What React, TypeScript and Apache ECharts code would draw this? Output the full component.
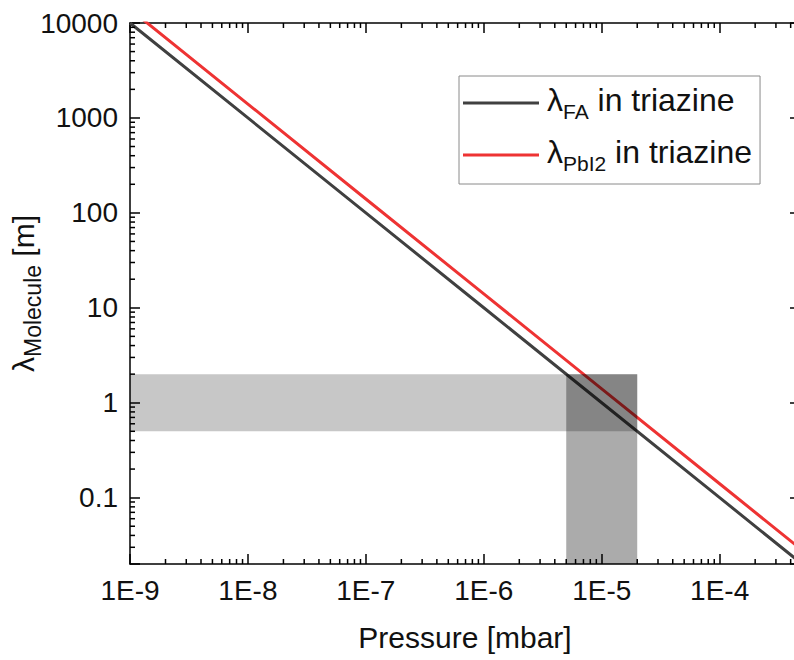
import React, { useEffect, useRef } from 'react';
import * as echarts from 'echarts';

// ---- data ----
const PRESSURE = [1e-9, 1e-8, 1e-7, 1e-6, 1e-5, 1e-4, 1e-3];
const LAMBDA_FA = [10000, 1000, 100, 10, 1, 0.1, 0.01];
const LAMBDA_PBI2 = [14000, 1400, 140, 14, 1.4, 0.14, 0.014];
const SERIES_SUBS = ['FA', 'PbI2'];
const X_RANGE = [1e-9, 4.8e-4];
const Y_RANGE = [0.02, 10000];
// [xFrom, xTo, yFrom, yTo]
const BAND_H = [1e-9, 2e-5, 0.5, 2];
const BAND_V = [5e-6, 2e-5, 0.02, 2];
const MINOR_STEPS = [2, 3, 4, 5, 6, 7, 8, 9];
const X_DECADES = [-10, -9, -8, -7, -6, -5, -4, -3];
const Y_DECADES = [-3, -2, -1, 0, 1, 2, 3, 4];

const FONT = '"Liberation Sans", Arial, sans-serif';
const BAND_FILLS = ['rgba(0,0,0,0.22)', 'rgba(0,0,0,0.33)'];
const AXIS_COLOR = '#000';
const TEXT_COLOR = '#111';

function isDecade(v: number) {
  const l = Math.log10(v);
  return Math.abs(l - Math.round(l)) < 1e-6;
}

function xLabel(v: number) {
  if (!isDecade(v)) return '';
  return '1E' + Math.round(Math.log10(v));
}

function yLabel(v: number) {
  if (!isDecade(v)) return '';
  const k = Math.round(Math.log10(v));
  return Number(Math.pow(10, k).toFixed(Math.max(0, -k))).toString();
}

export default function App() {
  const ref = useRef<HTMLDivElement>(null);
  useEffect(() => {
    if (!ref.current) return;
    const chart = echarts.init(ref.current, undefined, { renderer: 'svg' });

    const axisLine = { show: true, lineStyle: { color: AXIS_COLOR, width: 1.5 } };
    const axisTick = { show: true, inside: true, length: 10, lineStyle: { color: AXIS_COLOR, width: 1.5 } };

    const option: any = {
      animation: false,
      backgroundColor: '#fff',
      textStyle: { fontFamily: FONT },
      grid: { left: 130, right: -6, top: 23, bottom: 96, containLabel: false, outerBoundsMode: 'none' },
      legend: {
        orient: 'vertical',
        left: 459,
        top: 76,
        padding: [8, 8, 10, 4],
        itemGap: 14,
        itemWidth: 76,
        itemHeight: 3,
        icon: 'rect',
        borderColor: '#8a8a8a',
        borderWidth: 1,
        backgroundColor: '#fff',
        data: SERIES_SUBS,
        formatter: (name: string) => `{a|λ}{s|${name}}{a| in triazine}`,
        textStyle: {
          padding: [0, 0, 0, 3],
          rich: {
            a: { fontSize: 32, fontFamily: FONT, color: TEXT_COLOR, lineHeight: 38, verticalAlign: 'top' },
            s: { fontSize: 21, fontFamily: FONT, color: TEXT_COLOR, lineHeight: 38, verticalAlign: 'bottom' },
          },
        },
      },
      xAxis: [
        {
          type: 'log',
          min: X_RANGE[0],
          max: X_RANGE[1],
          position: 'bottom',
          axisLine,
          axisTick,
          splitLine: { show: false },
          minorTick: { show: false },
          axisLabel: { margin: 12, fontSize: 28, color: TEXT_COLOR, fontFamily: FONT, formatter: xLabel },
          name: 'Pressure [mbar]',
          nameLocation: 'middle',
          nameGap: 58,
          nameMoveOverlap: false,
          nameTextStyle: { fontSize: 30, color: TEXT_COLOR, fontFamily: FONT },
        },
        {
          type: 'log',
          min: X_RANGE[0],
          max: X_RANGE[1],
          position: 'top',
          axisLine,
          axisTick,
          splitLine: { show: false },
          axisLabel: { show: false },
        },
      ],
      yAxis: [
        {
          type: 'log',
          min: Y_RANGE[0],
          max: Y_RANGE[1],
          position: 'left',
          axisLine,
          axisTick,
          splitLine: { show: false },
          axisLabel: { margin: 12, fontSize: 28, color: TEXT_COLOR, fontFamily: FONT, formatter: yLabel },
          name: '{a|λ}{s|Molecule}{a| [m]}',
          nameLocation: 'middle',
          nameGap: 86,
          nameMoveOverlap: false,
          nameTextStyle: {
            rich: {
              a: { fontSize: 30, fontFamily: FONT, color: TEXT_COLOR, lineHeight: 36, verticalAlign: 'top' },
              s: { fontSize: 23, fontFamily: FONT, color: TEXT_COLOR, lineHeight: 36, verticalAlign: 'bottom' },
            },
          },
        },
        {
          type: 'log',
          min: Y_RANGE[0],
          max: Y_RANGE[1],
          position: 'right',
          axisLine,
          axisTick,
          splitLine: { show: false },
          axisLabel: { show: false },
        },
      ],
      series: [
        {
          name: SERIES_SUBS[0],
          type: 'line',
          xAxisIndex: 0,
          yAxisIndex: 0,
          data: PRESSURE.map((p, i) => [p, LAMBDA_FA[i]]),
          showSymbol: false,
          color: '#404040',
          lineStyle: { width: 3, color: '#404040' },
          clip: true,
          z: 2,
        },
        {
          name: SERIES_SUBS[1],
          type: 'line',
          xAxisIndex: 0,
          yAxisIndex: 0,
          data: PRESSURE.map((p, i) => [p, LAMBDA_PBI2[i]]),
          showSymbol: false,
          color: '#ee3333',
          lineStyle: { width: 3, color: '#ee3333' },
          clip: true,
          z: 2,
        },
        {
          name: 'bands',
          type: 'custom',
          xAxisIndex: 0,
          yAxisIndex: 0,
          z: 3,
          silent: true,
          data: [BAND_H, BAND_V],
          renderItem: (params: any, api: any) => {
            const a = api.coord([api.value(0), api.value(3)]);
            const b = api.coord([api.value(1), api.value(2)]);
            return {
              type: 'rect',
              shape: { x: a[0], y: a[1], width: b[0] - a[0], height: b[1] - a[1] },
              style: { fill: BAND_FILLS[params.dataIndex] },
            };
          },
        },
        {
          name: 'minorTicks',
          type: 'custom',
          xAxisIndex: 0,
          yAxisIndex: 0,
          z: 4,
          silent: true,
          data: [[X_RANGE[0], Y_RANGE[0]]],
          renderItem: (_params: any, api: any) => {
            const children: any[] = [];
            const style = { stroke: AXIS_COLOR, lineWidth: 1.5 };
            const L = 5;
            X_DECADES.forEach((d) => {
              MINOR_STEPS.forEach((m) => {
                const v = m * Math.pow(10, d);
                if (v <= X_RANGE[0] || v >= X_RANGE[1]) return;
                const pb = api.coord([v, Y_RANGE[0]]);
                const pt = api.coord([v, Y_RANGE[1]]);
                children.push({ type: 'line', shape: { x1: pb[0], y1: pb[1], x2: pb[0], y2: pb[1] - L }, style });
                children.push({ type: 'line', shape: { x1: pt[0], y1: pt[1], x2: pt[0], y2: pt[1] + L }, style });
              });
            });
            Y_DECADES.forEach((d) => {
              MINOR_STEPS.forEach((m) => {
                const v = m * Math.pow(10, d);
                if (v <= Y_RANGE[0] || v >= Y_RANGE[1]) return;
                const pl = api.coord([X_RANGE[0], v]);
                const pr = api.coord([X_RANGE[1], v]);
                children.push({ type: 'line', shape: { x1: pl[0], y1: pl[1], x2: pl[0] + L, y2: pl[1] }, style });
                children.push({ type: 'line', shape: { x1: pr[0], y1: pr[1], x2: pr[0] - L, y2: pr[1] }, style });
              });
            });
            return { type: 'group', children };
          },
        },
      ],
    };

    chart.setOption(option);
    return () => chart.dispose();
  }, []);

  return (
    <div
      ref={ref}
      style={{ position: 'fixed', left: 0, top: 0, width: 794, height: 660, background: '#fff' }}
    />
  );
}
